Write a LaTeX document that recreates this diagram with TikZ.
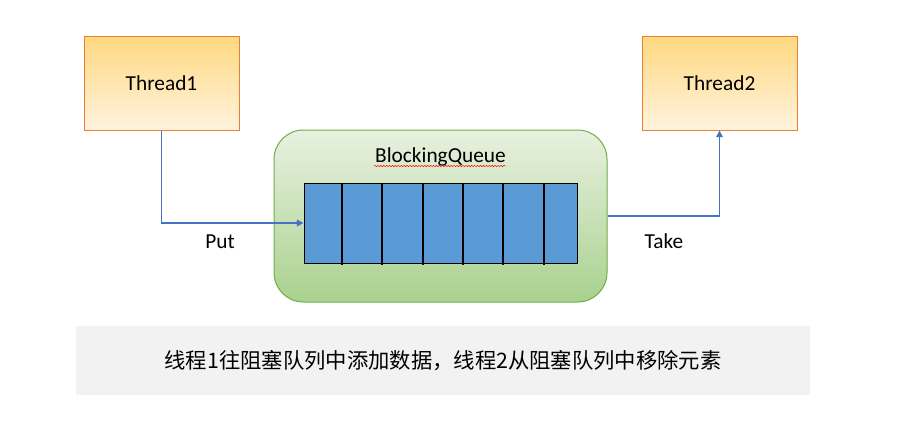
\documentclass[tikz,border=0pt]{standalone}
\usepackage{fontspec}
\setmainfont{Carlito}
\newfontfamily\cjk{Noto Sans CJK SC}
\usetikzlibrary{arrows.meta,decorations.pathmorphing}

\definecolor{threadline}{HTML}{ED7D31}
\definecolor{threadtop}{HTML}{FFD980}
\definecolor{threadbot}{HTML}{FFF3DE}
\definecolor{queueline}{HTML}{70AD47}
\definecolor{queuetop}{HTML}{E8F1E0}
\definecolor{queuebot}{HTML}{A9D18E}
\definecolor{cellfill}{HTML}{5B9BD5}
\definecolor{flowline}{HTML}{4472C4}
\definecolor{notefill}{HTML}{F2F2F2}

\tikzset{
  threadbox/.style={draw=threadline, line width=0.75pt, top color=threadtop,
    bottom color=threadbot, minimum width=116.25pt, minimum height=70.5pt,
    font=\fontsize{16}{18}\selectfont},
  flow/.style={draw=flowline, line width=1.1pt, -{Triangle[length=5pt,width=5pt]}},
  lbl/.style={font=\fontsize{16}{18}\selectfont}
}

\begin{document}
\begin{tikzpicture}[x=0.75pt, y=-0.75pt, line join=miter]
  \useasboundingbox (0,0) rectangle (898,436);
  % The two threads on either side of the queue.
  \node[threadbox] (thread1) at (161.5,83) {Thread1};
  \node[threadbox] (thread2) at (719.5,83) {Thread2};
  % The queue itself: a rounded green panel holding the row of slots.
  \node[draw=queueline, line width=0.75pt, rounded corners=22pt, top color=queuetop,
    bottom color=queuebot, minimum width=249.75pt, minimum height=129pt] (queue) at (440.5,216) {};
  \node[lbl] (qname) at (440.5,157) {BlockingQueue};
  \draw[red, line width=0.35pt, decorate, decoration={snake, amplitude=0.5pt, segment length=2.2pt}]
    (374,166) -- (506,166);
  \node[draw=black, line width=0.75pt, fill=cellfill, minimum width=204.75pt,
    minimum height=60pt] (buf) at (440.5,223) {};
  \foreach \x in {342,382,423,463,503,544}
    \draw[line width=1.5pt] (\x,183) -- (\x,265);
  % Put goes in on the left, Take comes out on the right.
  \draw[flow] (thread1.south) |- (buf.west);
  \draw[flow] (queue.east) -| (thread2.south);
  \node[lbl] (put) at (220,242) {Put};
  \node[lbl] (take) at (664,241) {Take};
  % Caption strip underneath.
  \node[fill=notefill, minimum width=550.5pt, minimum height=51.75pt,
    font=\cjk\fontsize{16}{18}\selectfont] (note) at (443,360.5)
    {线程1往阻塞队列中添加数据，线程2从阻塞队列中移除元素};
\end{tikzpicture}
\end{document}
